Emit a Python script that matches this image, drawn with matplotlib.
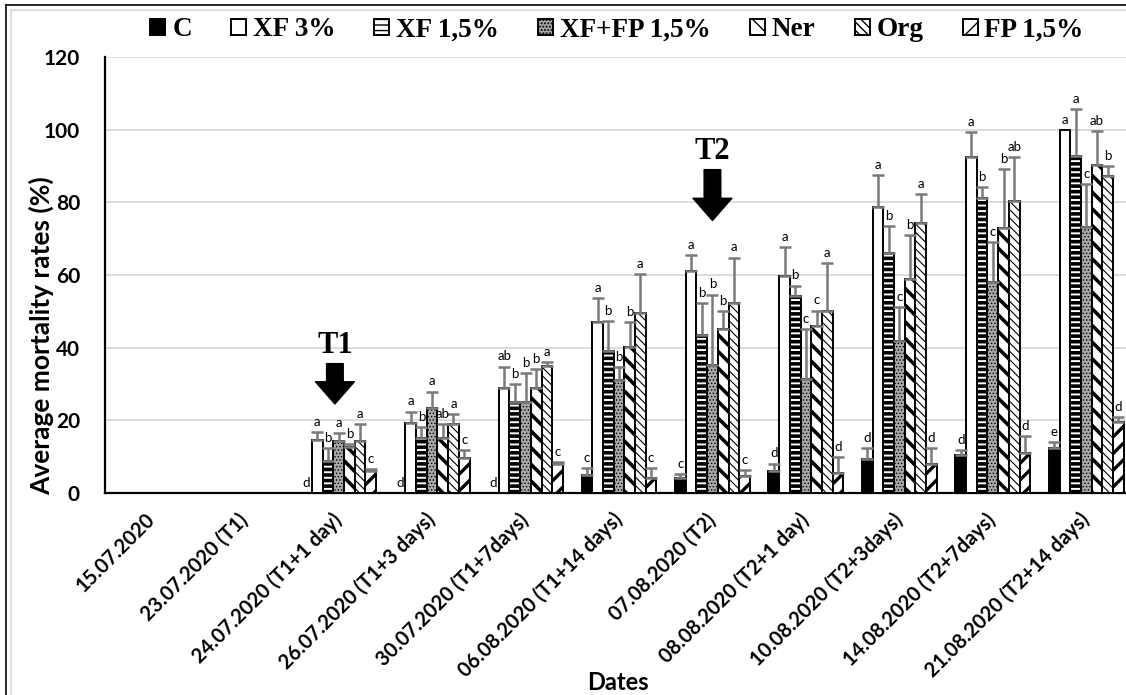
import numpy as np
import matplotlib
matplotlib.use('Agg')
import matplotlib.pyplot as plt
from matplotlib.lines import Line2D

# Sampling dates
dates = ['15.07.2020', '23.07.2020 (T1)', '24.07.2020 (T1+1 day)', '26.07.2020 (T1+3 days)',
         '30.07.2020 (T1+7days)', '06.08.2020 (T1+14 days)', '07.08.2020 (T2)',
         '08.08.2020 (T2+1 day)', '10.08.2020 (T2+3days)', '14.08.2020 (T2+7days)',
         '21.08.2020 (T2+14 days)']

treatments = ['C', 'XF 3%', 'XF 1,5%', 'XF+FP 1,5%', 'Ner', 'Org', 'FP 1,5%']

# mean mortality (%)
c_mean = [0, 0, 0, 0, 0, 5.0, 4.2, 6.1, 9.3, 10.5, 12.4]
xf3_mean = [0, 0, 14.6, 19.3, 29.0, 47.0, 61.0, 59.6, 78.7, 92.5, 100.0]
xf15_mean = [0, 0, 8.8, 15.2, 25.0, 39.2, 43.5, 54.1, 66.1, 81.3, 92.7]
xffp_mean = [0, 0, 14.3, 23.4, 25.0, 31.2, 35.3, 31.4, 41.7, 58.0, 73.2]
ner_mean = [0, 0, 12.7, 15.2, 29.0, 40.1, 45.2, 46.0, 59.0, 72.9, 90.4]
org_mean = [0, 0, 14.3, 19.0, 35.0, 49.5, 52.2, 50.0, 74.2, 80.3, 87.2]
fp_mean = [0, 0, 6.0, 9.6, 8.0, 4.1, 4.7, 5.5, 8.0, 11.1, 19.6]

# standard deviations (upper error bars only)
c_sd = [0, 0, 0, 0, 0, 1.9, 1.0, 2.0, 3.1, 1.3, 1.5]
xf3_sd = [0, 0, 2.2, 3.1, 5.8, 6.7, 4.4, 8.0, 8.7, 6.9, 0]
xf15_sd = [0, 0, 3.6, 3.0, 5.0, 8.1, 8.7, 3.0, 7.4, 2.9, 12.9]
xffp_sd = [0, 0, 2.2, 4.5, 8.0, 3.4, 19.3, 13.8, 9.4, 11.0, 11.8]
ner_sd = [0, 0, 0.8, 3.8, 5.2, 6.9, 4.8, 4.2, 12.1, 16.2, 9.2]
org_sd = [0, 0, 4.7, 2.8, 1.0, 10.7, 12.6, 13.2, 8.0, 12.2, 2.8]
fp_sd = [0, 0, 0.5, 2.2, 0.5, 2.7, 1.6, 4.4, 4.4, 4.6, 1.4]

# significance letters
c_let = ['', '', 'd', 'd', 'd', 'c', 'c', 'd', 'd', 'd', 'e']
xf3_let = ['', '', 'a', 'a', 'ab', 'a', 'a', 'a', 'a', 'a', 'a']
xf15_let = ['', '', 'b', 'b', 'b', 'b', 'b', 'b', 'b', 'b', 'a']
xffp_let = ['', '', 'a', 'a', 'b', 'b', 'b', 'c', 'c', 'c', 'c']
ner_let = ['', '', 'b', 'ab', 'b', 'b', 'b', 'c', 'b', 'b', 'ab']
org_let = ['', '', 'a', 'a', 'a', 'a', 'a', 'a', 'a', 'ab', 'b']
fp_let = ['', '', 'c', 'c', 'c', 'c', 'c', 'd', 'd', 'd', 'd']

means = [c_mean, xf3_mean, xf15_mean, xffp_mean, ner_mean, org_mean, fp_mean]
sds = [c_sd, xf3_sd, xf15_sd, xffp_sd, ner_sd, org_sd, fp_sd]
letters = [c_let, xf3_let, xf15_let, xffp_let, ner_let, org_let, fp_let]

# (facecolor, hatch, hatch linewidth)
styles = [('black', '', 1.0),
          ('white', '', 1.0),
          ('white', '---', 2.6),
          ('#a8a8a8', '.....', 0.6),
          ('white', '\\\\', 2.6),
          ('white', '\\\\\\\\', 0.8),
          ('white', '//', 2.4)]

SANS = 'Lato'
SERIF = 'Liberation Serif'

fig = plt.figure(figsize=(11.26, 6.95), dpi=100)
W, H = 1126, 695
ax = fig.add_axes([105 / W, (H - 493) / H, (1133 - 105) / W, (493 - 57) / H])

x = np.arange(len(dates))
w = 0.1145
handles = []
for j, name in enumerate(treatments):
    fc, hatch, hlw = styles[j]
    pos = x + (j - 3) * w
    bars = ax.bar(pos, means[j], width=w, color=fc, edgecolor='black', linewidth=1.4,
                  hatch=hatch, zorder=3, label=name)
    for b in bars:
        if hasattr(b, 'set_hatch_linewidth'):
            b.set_hatch_linewidth(hlw)
    handles.append(bars[0])
    m = np.array(means[j])
    s = np.array(sds[j])
    show = s > 0
    ax.errorbar(pos[show], m[show], yerr=[np.zeros(show.sum()), s[show]], fmt='none',
                ecolor='#7a7a7a', elinewidth=1.8, capsize=4, capthick=1.8, zorder=4)
    for i in range(len(dates)):
        if letters[j][i]:
            ax.annotate(letters[j][i], (pos[i], m[i] + s[i]), xytext=(0, 3),
                        textcoords='offset points', ha='center', va='bottom',
                        fontsize=9.5, family=SANS, color='black', zorder=5)

ax.set_ylim(0, 120)
ax.set_xlim(-0.5, 10.5)
ax.set_yticks(range(0, 121, 20))
ax.yaxis.grid(True, color='#d9d9d9', linewidth=1.3, zorder=0)
ax.set_axisbelow(True)
for sp in ['top', 'right']:
    ax.spines[sp].set_visible(False)
for sp in ['left', 'bottom']:
    ax.spines[sp].set_linewidth(1.6)
ax.tick_params(axis='y', length=0, pad=18)
ax.tick_params(axis='x', length=0, pad=17)
ax.set_xticks(x)
ax.set_xticklabels(dates, rotation=45, ha='right', va='center', rotation_mode='anchor',
                   fontsize=14.5, fontweight='bold', family=SANS)
for lab in ax.get_yticklabels():
    lab.set_fontsize(15)
    lab.set_fontweight('bold')
    lab.set_family(SANS)

ax.set_ylabel('Average mortality rates (%)', fontsize=19, fontweight='bold', family=SANS)
ax.yaxis.set_label_coords(-0.049, 0.36)
fig.text(618 / W, 1 - 683 / H, 'Dates', ha='center', va='center', fontsize=17,
         fontweight='bold', family=SANS)

# treatment arrows
for xi, label, tail, tip, ty in [(1.96, 'T1', 35.6, 24.5, 40.5), (6.0, 'T2', 89.0, 75.0, 94.0)]:
    ax.annotate('', xy=(xi, tip), xytext=(xi, tail),
                arrowprops=dict(arrowstyle='simple,head_width=2.8,head_length=1.6,tail_width=1.2',
                                color='black', mutation_scale=10, shrinkA=0, shrinkB=0),
                zorder=6)
    ax.text(xi, ty, label, ha='center', va='center', fontsize=22, fontweight='bold',
            family=SERIF, zorder=6)

fig.legend(handles, treatments, loc='center', bbox_to_anchor=(617 / W, 1 - 30 / H), ncol=7,
           frameon=False, handlelength=0.55, handleheight=0.55, handletextpad=0.25,
           columnspacing=1.45, prop={'family': SERIF, 'weight': 'bold', 'size': 19.5})

# outer frame of the picture
fig.add_artist(Line2D([6 / W, 6 / W], [0, 1 - 5 / H], transform=fig.transFigure,
                      color='black', linewidth=1.2))
fig.add_artist(Line2D([6 / W, 1], [1 - 5 / H, 1 - 5 / H], transform=fig.transFigure,
                      color='black', linewidth=1.2))
fig.add_artist(Line2D([11 / W, 11 / W], [0, 1 - 10 / H], transform=fig.transFigure,
                      color='#d9d9d9', linewidth=1.2))
fig.add_artist(Line2D([11 / W, 1], [1 - 10 / H, 1 - 10 / H], transform=fig.transFigure,
                      color='#d9d9d9', linewidth=1.2))

fig.savefig('out.png', dpi=100)
